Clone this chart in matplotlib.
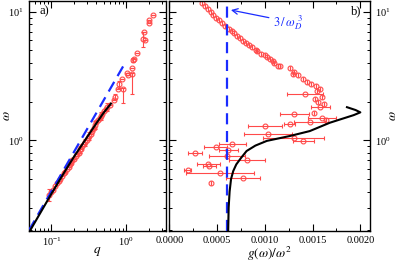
import numpy as np
import matplotlib
matplotlib.use('Agg')
import matplotlib.pyplot as plt
from matplotlib.ticker import LogLocator, LogFormatterMathtext, NullFormatter, MultipleLocator, FormatStrFormatter

plt.rcParams['font.family'] = 'serif'
plt.rcParams['font.serif'] = ['Liberation Serif', 'DejaVu Serif']
plt.rcParams['mathtext.fontset'] = 'stix'

ROJO = '#ff4a4a'
AZUL = '#1a2cff'

# ---- panel a) dispersion: q vs omega
q_sim = [0.093, 0.1, 0.105, 0.11, 0.12, 0.125, 0.13, 0.14, 0.145, 0.15, 0.16, 0.17,
         0.175, 0.18, 0.19, 0.2, 0.21, 0.22, 0.23, 0.24, 0.25, 0.26, 0.27, 0.28,
         0.30, 0.31, 0.32, 0.34, 0.35, 0.37, 0.38, 0.40, 0.42, 0.44, 0.46, 0.48,
         0.50, 0.53, 0.56, 0.61, 0.68, 0.71, 0.77, 0.81, 0.88, 0.90, 1.02, 1.05,
         1.19, 1.20, 1.25, 1.27, 1.41, 1.67, 1.77, 1.74, 2.0, 2.02, 2.29]
w_sim = [0.376, 0.40, 0.41, 0.44, 0.47, 0.48, 0.50, 0.53, 0.56, 0.57, 0.60, 0.62,
         0.66, 0.67, 0.70, 0.72, 0.75, 0.78, 0.80, 0.85, 0.86, 0.90, 0.93, 0.97,
         1.0, 1.05, 1.08, 1.12, 1.18, 1.25, 1.32, 1.38, 1.45, 1.5, 1.55, 1.6,
         1.7, 1.75, 1.82, 1.89, 2.05, 2.18, 2.49, 2.72, 2.98, 2.5, 3.36, 3.2,
         3.28, 3.63, 4.2, 4.3, 4.74, 6.1, 6.0, 6.9, 8.2, 8.6, 9.37]
w_err_lo = [0.04, 0, 0, 0, 0, 0, 0, 0, 0, 0, 0, 0,
            0, 0, 0, 0, 0, 0, 0, 0.05, 0, 0, 0, 0.06,
            0, 0, 0.08, 0, 0, 0, 0.1, 0, 0, 0, 0.1, 0,
            0, 0, 0.12, 0, 0, 0.1, 0, 0.15, 0, 0.55, 0, 0,
            1.0, 0, 0.15, 0, 0, 0.8, 0, 0, 0, 0, 0]
w_err_hi = [0.04, 0, 0, 0, 0, 0, 0, 0, 0, 0, 0, 0,
            0, 0, 0, 0, 0, 0, 0, 0.05, 0, 0, 0, 0.06,
            0, 0, 0.08, 0, 0, 0, 0.1, 0, 0, 0, 0.1, 0,
            0, 0, 0.12, 0, 0, 0.1, 0, 0.15, 0, 0.05, 0, 0,
            0.05, 0, 0.15, 0, 0, 0.9, 0, 0, 0, 0, 0]

q_debye = [0.05, 0.92]
w_debye = [0.2, 3.8]

q_teo = [0.052, 0.1, 0.15, 0.2, 0.3, 0.4, 0.5, 0.625]
w_teo = [0.2, 0.385, 0.57, 0.745, 1.06, 1.36, 1.64, 1.93]

# ---- panel b) g(w)/w^2 vs omega  (g en unidades de 1e-4)
g_sim = [3.4, 3.7, 4.0, 4.3, 4.6, 4.9, 5.2, 5.5, 5.8, 6.2, 6.5, 6.8, 7.1, 7.4,
         7.7, 8.0, 8.3, 8.6, 9.1, 9.15, 9.6, 10.0, 10.2, 10.5, 10.8, 11.0, 11.4,
         11.6, 12.6, 13.1, 12.9, 13.5, 14.0, 14.4, 14.8, 15.4, 15.8, 15.5, 14.2,
         16.0, 15.3, 15.6, 16.2, 15.8, 13.1, 15.1, 16.0, 16.4, 12.6, 14.7, 10.0,
         10.3, 13.0, 14.0, 6.6, 4.86, 6.15, 2.66, 6.0, 8.1, 4.06, 4.16, 1.9, 5.3,
         7.7, 4.4]
w_g = [11.6, 11.0, 10.5, 10.0, 9.5, 9.0, 8.6, 8.2, 7.8, 7.4, 7.1, 6.8, 6.5, 6.2,
       5.95, 5.7, 5.5, 5.3, 5.05, 4.95, 4.7, 4.6, 4.45, 4.3, 4.15, 4.0, 3.8,
       3.75, 3.62, 3.42, 3.3, 3.2, 3.0, 2.85, 2.75, 2.64, 2.5, 2.4, 2.29,
       2.18, 2.1, 2.0, 1.93, 1.83, 1.6, 1.62, 1.5, 1.45, 1.33, 1.39, 1.29,
       1.12, 1.04, 0.99, 0.94, 0.89, 0.84, 0.80, 0.755, 0.70, 0.66, 0.63, 0.585, 0.56,
       0.506, 0.47]
g_err = [0, 0, 0, 0, 0, 0, 0, 0, 0, 0, 0, 0, 0, 0,
         0, 0, 0, 0, 0, 0, 0, 0, 0, 0, 0, 0, 0,
         0, 0, 0, 0, 0, 0, 0, 0, 0, 0, 0, 1.9,
         0, 0, 0, 0, 1.0, 1.5, 0, 1.5, 0, 0.6, 1.6, 1.8,
         2.5, 3.2, 1.1, 1.4, 1.2, 1.0, 0.7, 1.9, 1.9, 1.2, 0.7, 0.4, 3.6,
         1.8, 0]

g_teo = [6.15, 6.2, 6.3, 6.45, 6.68, 7.0, 7.5, 8.08, 9.0, 10.2, 12.6, 14.7,
         16.8, 19.3, 20.0, 19.5, 18.6]
w_g_teo = [0.2, 0.3, 0.4, 0.5, 0.577, 0.65, 0.73, 0.826, 0.91, 0.99, 1.08, 1.18,
           1.37, 1.57, 1.65, 1.72, 1.81]

g_debye = 6.0  # 3/omega_D^3

FS = 7.5


def estilo_ejes(ax):
    ax.tick_params(which='both', direction='in', top=True, right=True, labelsize=FS)
    ax.tick_params(which='major', length=5, width=0.8)
    ax.tick_params(which='minor', length=2.5, width=0.7)
    for s in ax.spines.values():
        s.set_linewidth(1.0)


fig = plt.figure(figsize=(3.99, 2.62), dpi=100)
ax1 = fig.add_axes([0.0727, 0.118, 0.343, 0.878])
ax2 = fig.add_axes([0.4248, 0.118, 0.5022, 0.878])

# panel a
ax1.errorbar(q_sim, w_sim, yerr=[w_err_lo, w_err_hi], fmt='o', mfc='none', mec=ROJO,
             ecolor=ROJO, ms=3.5, mew=0.8, elinewidth=0.8, capsize=1.5, zorder=2)
ax1.plot(q_debye, w_debye, color=AZUL, lw=1.6, dashes=(5, 3), zorder=3)
ax1.plot(q_teo, w_teo, color='k', lw=1.5, zorder=4)
ax1.set_xscale('log')
ax1.set_yscale('log')
ax1.set_xlim(0.05, 3.4)
ax1.set_ylim(0.197, 12.1)
ax1.xaxis.set_major_locator(LogLocator(base=10))
ax1.xaxis.set_minor_locator(LogLocator(base=10, subs=np.arange(2, 10)))
ax1.xaxis.set_major_formatter(LogFormatterMathtext())
ax1.xaxis.set_minor_formatter(NullFormatter())
ax1.yaxis.set_major_locator(LogLocator(base=10))
ax1.yaxis.set_minor_locator(LogLocator(base=10, subs=np.arange(2, 10)))
ax1.yaxis.set_major_formatter(LogFormatterMathtext())
ax1.yaxis.set_minor_formatter(NullFormatter())
estilo_ejes(ax1)
ax1.set_xlabel('$q$', fontsize=9.5)
ax1.xaxis.set_label_coords(0.5, -0.06)
ax1.set_ylabel(r'$\omega$', fontsize=9.5)
ax1.yaxis.set_label_coords(-0.12, 0.5)
ax1.text(0.08, 0.955, 'a)', transform=ax1.transAxes, fontsize=9, va='center')

# panel b
ax2.errorbar(np.array(g_sim) * 1e-4, w_g, xerr=np.array(g_err) * 1e-4, fmt='o',
             mfc='none', mec=ROJO, ecolor=ROJO, ms=3.5, mew=0.8, elinewidth=0.8,
             capsize=1.5, zorder=2)
ax2.axvline(g_debye * 1e-4, color=AZUL, lw=1.6, dashes=(5, 3), zorder=3)
ax2.plot(np.array(g_teo) * 1e-4, w_g_teo, color='k', lw=1.5, zorder=4)
ax2.set_yscale('log')
ax2.set_xlim(0, 0.0021)
ax2.set_ylim(0.197, 12.1)
ax2.xaxis.set_major_locator(MultipleLocator(0.0005))
ax2.xaxis.set_minor_locator(MultipleLocator(0.00025))
ax2.xaxis.set_major_formatter(FormatStrFormatter('%.4f'))
ax2.yaxis.set_major_locator(LogLocator(base=10))
ax2.yaxis.set_minor_locator(LogLocator(base=10, subs=np.arange(2, 10)))
ax2.yaxis.set_major_formatter(LogFormatterMathtext())
ax2.yaxis.set_minor_formatter(NullFormatter())
estilo_ejes(ax2)
ax2.tick_params(labelleft=False, labelright=True)
ax2.yaxis.set_label_position('right')
ax2.set_ylabel(r'$\omega$', fontsize=9.5)
ax2.yaxis.set_label_coords(1.085, 0.5)
ax2.set_xlabel(r'$g(\omega)/\omega^2$', fontsize=9.5)
ax2.xaxis.set_label_coords(0.5, -0.058)
ax2.text(0.905, 0.955, 'b)', transform=ax2.transAxes, fontsize=9, va='center')
ax2.annotate('', xy=(0.000615, 10.4), xytext=(0.00107, 8.9),
             arrowprops=dict(arrowstyle='->', color=AZUL, lw=0.9))
ax2.text(0.00108, 8.2, r'$3\,/\,\omega_D^{\ 3}$', color=AZUL, fontsize=9,
         ha='left', va='center')

fig.savefig('out.png', dpi=100)
